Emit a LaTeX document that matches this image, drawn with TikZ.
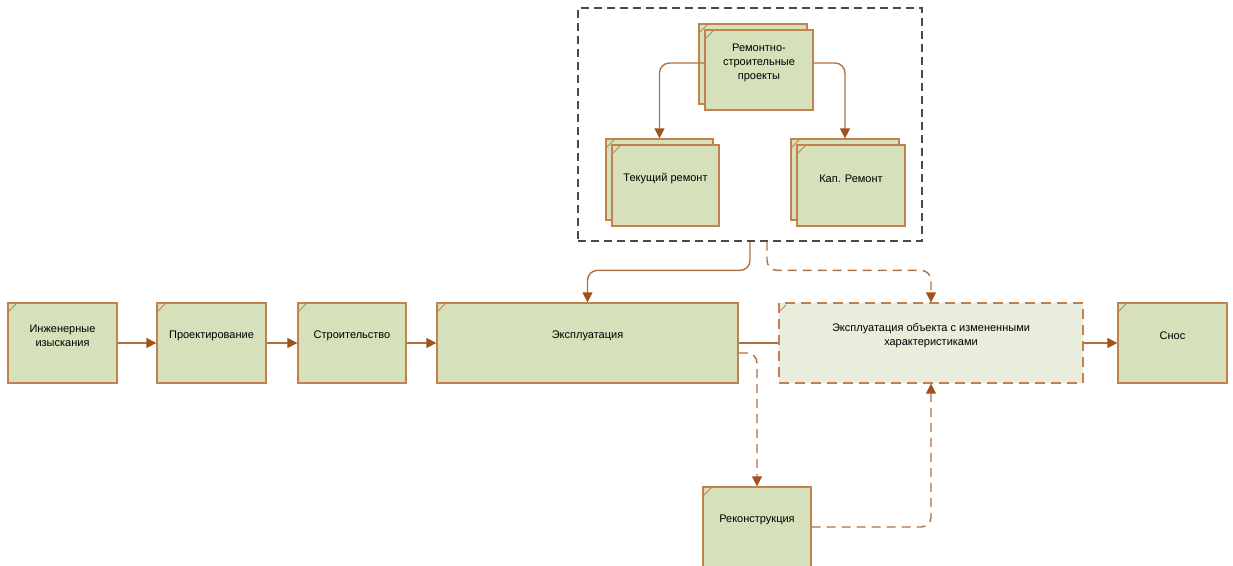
\documentclass[tikz,border=0pt]{standalone}
\usepackage{fontspec}
\setmainfont{Liberation Sans}
\usetikzlibrary{arrows.meta,calc}
\definecolor{boxfill}{HTML}{D6E0BA}
\definecolor{objfill}{HTML}{E9EEDC}
\definecolor{boxline}{HTML}{C0824F}
\definecolor{conline}{HTML}{B0703F}
\definecolor{tipcol}{HTML}{A0521D}
\definecolor{grpline}{HTML}{4A4A4A}
\tikzset{
  blk/.style={draw=boxline, fill=boxfill, line width=1.3pt, minimum height=80pt, inner sep=0pt,
    path picture={\draw[boxline, line width=0.8pt] ([yshift=-9pt]path picture bounding box.north west) -- ([xshift=9pt]path picture bounding box.north west);}},
  objblk/.style={blk, fill=objfill, dash pattern=on 10pt off 6pt},
  lbl/.style={label={[align=center, font=\fontsize{11}{14}\selectfont, yshift=7pt]center:#1}},
  conn/.style={draw=conline, line width=1.4pt},
  arr/.style={conn, -{Triangle[length=10pt,width=10pt,fill=tipcol,color=tipcol]}},
  dsh/.style={dash pattern=on 9pt off 6pt},
}
\begin{document}
\begin{tikzpicture}[x=1pt,y=-1pt]
\useasboundingbox (0,0) rectangle (1233,565);
% group container
\node[draw=grpline, line width=1.3pt, dash pattern=on 8pt off 5pt, minimum width=344pt, minimum height=233pt, inner sep=0pt] (grp) at (750,124.5) {};
% stacked boxes
\node[blk, minimum width=108pt] (remb) at (753,64) {};
\node[blk, minimum width=108pt, lbl={Ремонтно-\\строительные\\проекты}] (rem) at (759,70) {};
\node[blk, minimum width=107pt, minimum height=81pt] (tekb) at (659.5,179.5) {};
\node[blk, minimum width=107pt, minimum height=81pt, lbl={Текущий ремонт}] (tek) at (665.5,185.5) {};
\node[blk, minimum width=108pt, minimum height=81pt] (kapb) at (845,179.5) {};
\node[blk, minimum width=108pt, minimum height=81pt, lbl={Кап. Ремонт}] (kap) at (851,185.5) {};
% main row
\node[blk, minimum width=109pt, lbl={Инженерные\\изыскания}] (inz) at (62.5,343) {};
\node[blk, minimum width=109pt, lbl={Проектирование}] (proj) at (211.5,343) {};
\node[blk, minimum width=108pt, lbl={Строительство}] (stro) at (352,343) {};
\node[blk, minimum width=301pt, lbl={Эксплуатация}] (eks) at (587.5,343) {};
\node[objblk, minimum width=304pt, lbl={Эксплуатация объекта с измененными\\характеристиками}] (obj) at (931,343) {};
\node[blk, minimum width=109pt, lbl={Снос}] (snos) at (1172.5,343) {};
\node[blk, minimum width=108pt, lbl={Реконструкция}] (rek) at (757,527) {};
% connectors
\draw[arr, rounded corners=10pt] ([yshift=7pt]rem.west) -| (tekb.north);
\draw[arr, rounded corners=10pt] ([yshift=7pt]rem.east) -| (kapb.north);
\draw[arr] (inz.east) -- (proj.west);
\draw[arr] (proj.east) -- (stro.west);
\draw[arr] (stro.east) -- (eks.west);
\draw[conn] (eks.east) -- (obj.west);
\draw[arr] (obj.east) -- (snos.west);
\draw[arr, rounded corners=10pt] (grp.south) |- ($(eks.north)+(0,-32)$) -- (eks.north);
\draw[arr, dsh, rounded corners=10pt] ([xshift=17pt]grp.south) |- ($(obj.north)+(0,-32)$) -- (obj.north);
\draw[arr, dsh, rounded corners=10pt] ([yshift=-10pt]eks.east) -| (rek.north);
\draw[arr, dsh, rounded corners=10pt] (rek.east) -| (obj.south);
\end{tikzpicture}
\end{document}
